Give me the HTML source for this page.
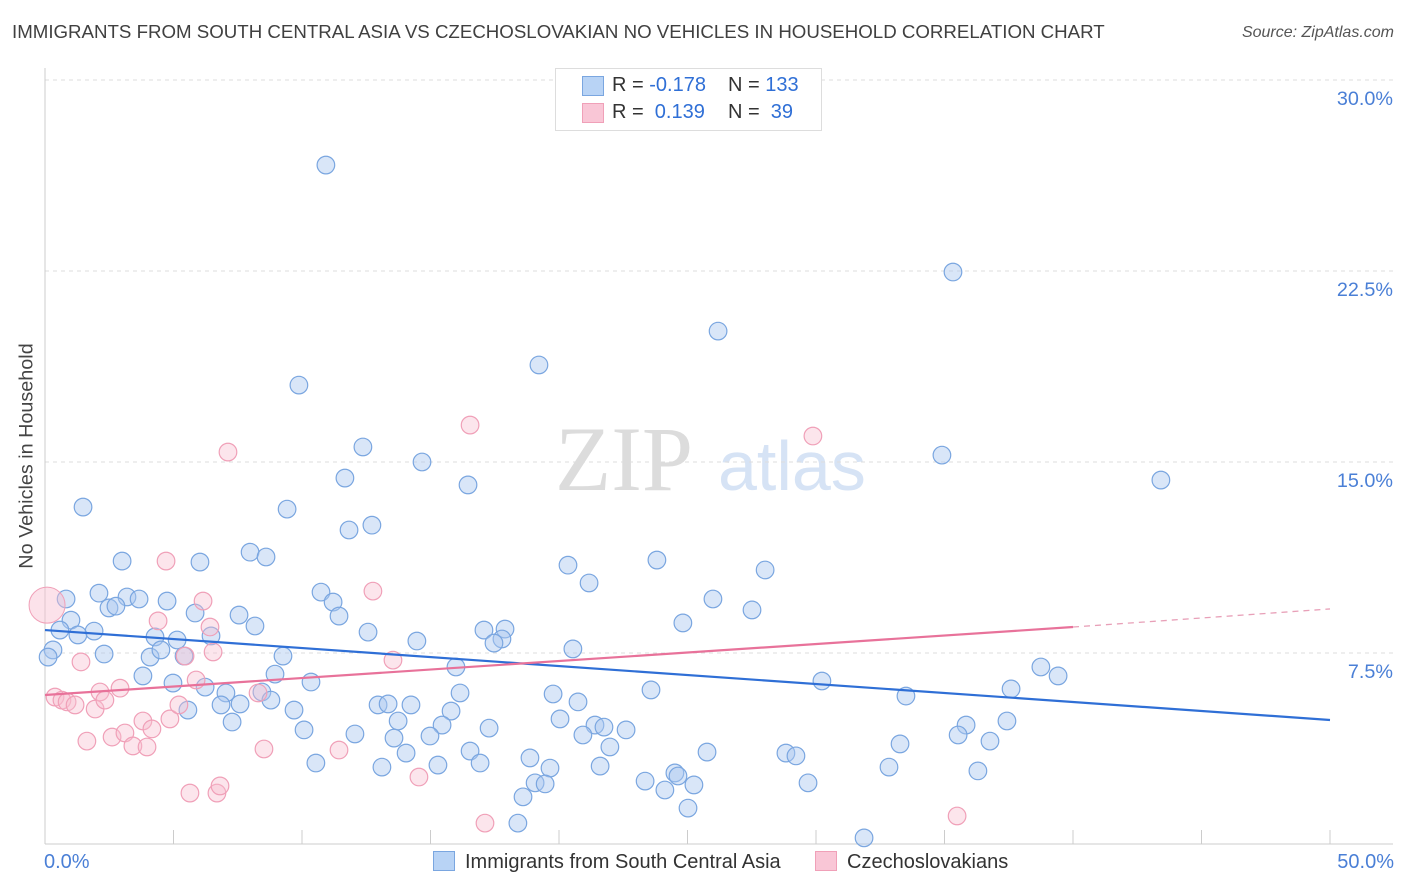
<!DOCTYPE html>
<html><head><meta charset="utf-8"><style>
body{margin:0;background:#fff;font-family:"Liberation Sans",sans-serif;}
#wrap{position:relative;width:1406px;height:892px;overflow:hidden;}
.t{position:absolute;white-space:nowrap;}
</style></head><body>
<div id="wrap">
<div class="t" style="left:12px;top:21px;font-size:18.7px;color:#404040;">IMMIGRANTS FROM SOUTH CENTRAL ASIA VS CZECHOSLOVAKIAN NO VEHICLES IN HOUSEHOLD CORRELATION CHART</div>
<div class="t" style="right:12px;top:24px;font-size:16px;color:#555;font-style:italic;">Source: ZipAtlas.com</div>
<svg id="svg" width="1406" height="892" style="position:absolute;left:0;top:0"></svg>
<div class="t" style="left:555px;top:68px;width:265px;height:61px;border:1px solid #ddd;background:#fff;font-size:20px;">
 <div style="position:absolute;left:26px;top:7px;width:20px;height:18px;background:#b8d3f5;border:1px solid #7aa6e0"></div>
 <div style="position:absolute;left:56px;top:5px;color:#333">R = <span style="color:#2f6fd6">-0.178</span></div>
 <div style="position:absolute;left:172px;top:5px;color:#333">N = <span style="color:#2f6fd6">133</span></div>
 <div style="position:absolute;left:26px;top:34px;width:20px;height:18px;background:#f9c6d6;border:1px solid #f0a0b8"></div>
 <div style="position:absolute;left:56px;top:32px;color:#333">R = &nbsp;<span style="color:#2f6fd6">0.139</span></div>
 <div style="position:absolute;left:172px;top:32px;color:#333">N = &nbsp;<span style="color:#2f6fd6">39</span></div>
</div>
<div class="t" style="left:27px;top:456px;font-size:19.8px;color:#444;transform:translate(-50%,-50%) rotate(-90deg);">No Vehicles in Household</div>
<div class="t" style="left:44px;top:851px;font-size:20px;color:#4a7fd6;">0.0%</div>
<div class="t" style="right:12px;top:851px;font-size:20px;color:#4a7fd6;">50.0%</div>
<div class="t" style="left:433px;top:851px;font-size:20px;color:#333;"><span style="display:inline-block;width:20px;height:18px;background:#b8d3f5;border:1px solid #7aa6e0;vertical-align:-3px;margin-right:10px"></span>Immigrants from South Central Asia</div>
<div class="t" style="left:815px;top:851px;font-size:20px;color:#333;"><span style="display:inline-block;width:20px;height:18px;background:#f9c6d6;border:1px solid #f0a0b8;vertical-align:-3px;margin-right:10px"></span>Czechoslovakians</div>
</div>
<script>
const yTicks=[7.5,15,22.5,30];
const yTickLabels=["7.5%","15.0%","22.5%","30.0%"];
const blueX=[10.93,35.33,26.19,19.22,9.88,12.37,34.90,14.67,43.42,11.67,16.46,1.48,9.42,12.72,11.83,7.98,8.60,3.00,6.03,20.35,23.81,28.02,21.17,2.10,0.82,3.19,3.66,2.49,2.76,4.75,10.74,11.21,25.99,27.51,5.84,7.55,11.44,1.01,0.58,1.91,1.28,4.28,5.14,6.46,8.17,12.57,14.47,17.08,17.90,17.78,17.47,24.82,20.54,0.31,0.12,2.30,4.09,4.51,5.41,9.26,15.99,3.81,8.95,10.35,38.75,39.42,30.23,4.98,6.23,7.04,8.44,8.79,7.59,6.85,23.58,19.77,16.15,20.74,33.50,37.59,9.69,12.96,13.35,14.24,15.80,7.28,5.56,13.74,15.45,20.04,17.28,10.08,12.06,21.40,21.75,22.61,35.84,37.43,35.53,20.93,14.98,13.58,21.98,16.54,33.27,36.77,14.05,18.87,25.76,28.83,29.22,10.54,13.11,15.29,16.93,21.60,32.84,36.30,24.51,24.63,19.65,23.35,19.07,19.46,25.25,29.69,24.12,18.60,25.02,18.40,31.87];
const blueY=[26.66,22.46,20.14,18.81,18.02,15.59,15.27,15.00,14.29,14.37,14.10,13.23,13.15,12.52,12.33,11.46,11.27,11.11,11.07,10.95,11.15,10.76,10.25,9.85,9.62,9.70,9.62,9.27,9.34,9.54,9.89,9.50,9.62,9.19,9.07,8.99,8.95,8.79,8.40,8.36,8.21,8.13,8.01,8.17,8.56,8.32,7.97,8.40,8.44,8.05,7.89,8.68,7.66,7.62,7.34,7.46,7.34,7.62,7.38,7.38,6.95,6.60,6.67,6.36,6.95,6.60,6.40,6.32,6.16,5.93,5.97,5.65,5.50,5.46,6.05,5.89,5.93,5.58,5.81,6.09,5.26,5.46,5.50,5.46,5.22,4.79,5.26,4.83,4.67,4.91,4.55,4.48,4.32,4.67,4.59,4.48,4.67,4.83,4.28,4.28,4.24,4.16,3.81,3.65,3.93,4.04,3.57,3.38,3.61,3.57,3.46,3.18,3.02,3.10,3.18,3.06,3.02,2.87,2.79,2.67,2.98,2.47,2.40,2.36,2.32,2.40,2.12,1.85,1.41,0.82,0.24];
const pinkX=[0.39,0.66,0.86,1.17,1.40,1.63,1.95,2.14,2.33,2.61,2.92,3.11,3.42,3.81,3.97,4.16,4.40,4.71,4.86,5.21,5.45,5.64,5.88,6.15,6.42,6.54,6.69,6.81,7.12,8.29,8.52,11.44,12.76,13.54,14.55,16.54,17.12,29.88,35.49];
const pinkY=[5.77,5.65,5.58,5.46,7.15,4.04,5.30,5.97,5.65,4.20,6.12,4.36,3.85,4.83,3.81,4.52,8.76,11.11,4.91,5.46,7.38,2.00,6.44,9.54,8.52,7.54,2.00,2.28,15.39,5.93,3.73,3.69,9.93,7.22,2.63,16.45,0.82,16.02,1.10];
const pinkBig=[0.08,9.38];
const blueTrend=[8.40,4.87];
const pinkTrend=[5.85,8.52,9.23];
const NS="http://www.w3.org/2000/svg";
const svg=document.getElementById('svg');
const X=v=>45+v/50*1285, Y=v=>844-v/7.5*191;
function mk(t,a){const e=document.createElementNS(NS,t);for(const k in a)e.setAttribute(k,a[k]);svg.appendChild(e);return e;}
const wm=mk('text',{x:555,y:490,'font-family':'Liberation Serif,serif','font-size':92,fill:'#dcdcdc'});wm.textContent='ZIP';


const wm2=mk('text',{x:718,y:490,'font-family':'Liberation Sans,sans-serif','font-size':70,fill:'#d6e3f5'});wm2.textContent='atlas';


yTicks.forEach((v,i)=>{
 const l=mk('line',{x1:45,x2:1393,y1:Y(v),y2:Y(v),stroke:'#ddd','stroke-dasharray':'4,4'});
 
 
 const t=mk('text',{x:1393,y:Y(v)+25,'text-anchor':'end','font-size':19.8,fill:'#4a7fd6','font-family':'Liberation Sans,sans-serif'});t.textContent=yTickLabels[i];
 
 
});
const ax=mk('line',{x1:45,x2:45,y1:68,y2:844,stroke:'#ccc'});


const bx=mk('line',{x1:45,x2:1393,y1:844,y2:844,stroke:'#ccc'});


for(let i=0;i<=10;i++){const tk=mk('line',{x1:X(i*5),x2:X(i*5),y1:830,y2:844,stroke:'#ccc'});
 
 }
blueX.forEach((v,i)=>{const c=mk('circle',{cx:X(v),cy:Y(blueY[i]),r:8.8,fill:'rgba(170,200,240,0.45)',stroke:'#7aa6e0','stroke-width':1.2});
 
 });
pinkX.forEach((v,i)=>{const c=mk('circle',{cx:X(v),cy:Y(pinkY[i]),r:8.8,fill:'rgba(248,190,208,0.4)',stroke:'#f0a0b8','stroke-width':1.2});
 
 });
const pb=mk('circle',{cx:X(pinkBig[0]),cy:Y(pinkBig[1]),r:18,fill:'rgba(248,190,208,0.45)',stroke:'#f0a0b8','stroke-width':1});


const bt=mk('line',{x1:X(0),y1:Y(blueTrend[0]),x2:X(50),y2:Y(blueTrend[1]),stroke:'#2f6fd6','stroke-width':2.2});


const pt=mk('line',{x1:X(0),y1:Y(pinkTrend[0]),x2:X(40),y2:Y(pinkTrend[1]),stroke:'#e8729a','stroke-width':2.2});


const pd=mk('line',{x1:X(40),y1:Y(pinkTrend[1]),x2:X(50),y2:Y(pinkTrend[2]),stroke:'#e8a0b8','stroke-width':1.3,'stroke-dasharray':'6,5'});


</script>
</body></html>
